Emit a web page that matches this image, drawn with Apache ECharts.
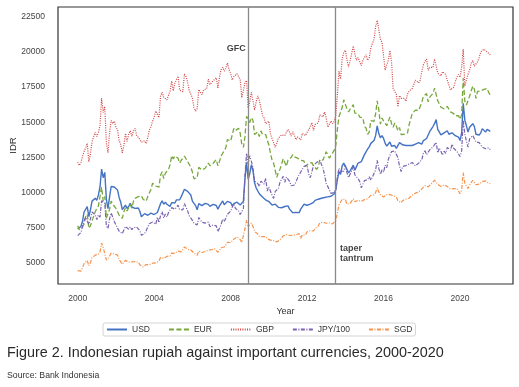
<!DOCTYPE html>
<html><head><meta charset="utf-8">
<script src="https://cdn.jsdelivr.net/npm/echarts@6/dist/echarts.min.js"></script>
<style>html,body{margin:0;padding:0;background:#fff}#c{width:519px;height:387px}</style>
</head><body><div id="c"></div>
<script>
// Monthly series, Jan 2000 - Aug 2021
const START_YEAR = 2000;
const usd = [
7425,7505,7590,7945,8620,8735,9000,8290,8780,9395,9530,9595,
9450,9835,10400,11675,11058,11440,9525,8865,9675,10435,10430,10400,
10320,10190,9655,9316,8785,8730,9108,8867,9015,9233,8976,8940,
8876,8905,8908,8675,8279,8285,8505,8535,8389,8495,8537,8465,
8441,8447,8587,8661,9210,9415,9168,9328,9170,9090,9018,9290,
9165,9260,9480,9570,9495,9713,9819,10240,10310,10090,10035,9830,
9395,9230,9075,8775,9220,9300,9070,9100,9235,9110,9165,9020,
9090,9160,9118,9083,8815,9054,9186,9410,9137,9103,9376,9419,
9291,9051,9217,9234,9318,9225,9118,9153,9378,10995,12151,10950,
11355,11980,11575,10713,10340,10225,9920,10060,9681,9545,9480,9400,
9365,9335,9115,9012,9180,9083,8952,9041,8924,8928,9013,8991,
9057,8823,8709,8574,8537,8597,8508,8578,8823,8835,9170,9068,
9100,9150,9180,9190,9300,9450,9480,9530,9580,9600,9620,9650,
9690,9700,9720,9740,9800,9900,10200,10900,11500,11300,11900,12100,
12200,11650,11400,11550,11600,11950,11600,11700,12100,12100,12200,12450,
12700,12900,13100,13250,13500,13550,13700,14050,14750,14200,13900,14050,
13850,13500,13300,13250,13600,13300,13200,13350,13150,13100,13550,13450,
13400,13350,13350,13300,13350,13350,13350,13350,13450,13550,13550,13550,
13450,13700,13750,13850,13950,14350,14450,14700,14900,15200,14500,14500,
14100,14050,14250,14200,14400,14150,14050,14250,14200,14050,14100,13950,
13700,14250,16350,15150,14750,14300,14650,14600,14900,14700,14150,14100,
14100,14250,14550,14450,14300,14500,14500,14350];
const eur = [
7650,7360,7290,7550,7760,8300,8460,7460,7640,7990,8100,8640,
8880,9050,9150,10390,9400,9720,8190,8070,8800,9390,9180,9260,
8880,8870,8400,8380,8170,8640,8930,8690,8920,9140,8890,9390,
9590,9620,9710,9720,9770,9530,9530,9390,9730,9850,10240,10670,
10550,10470,10560,10390,11240,11490,11000,11380,11370,11640,11990,12630,
12400,12600,12500,12450,12100,12300,12350,12600,12500,12200,12000,11800,
11460,10980,10980,11060,11800,11900,11610,11650,11730,11660,12100,11910,
11820,12090,12220,12350,11900,12220,12590,12800,12970,13200,13780,13750,
13660,13760,14560,14410,14440,14580,14220,13450,13220,13960,15430,15330,
14990,15330,15160,14140,14170,14320,13990,14390,14130,14130,14130,13720,
13390,12790,12300,12080,11570,11080,11460,11660,11690,12410,12350,11870,
12300,12400,12500,12700,12550,12500,12450,12450,12300,12250,12250,11850,
11740,12080,12120,12130,11900,11810,11660,11820,12360,12480,12310,12640,
12900,12900,12450,12650,12750,13000,13350,14500,15400,15350,16050,16600,
16590,15960,15730,15940,15890,16250,15660,15560,15610,15370,15250,15310,
14730,14580,14150,14310,15120,15180,15070,15600,16520,15900,14870,15310,
15100,14990,14760,15100,15370,14900,14650,14950,14730,14410,14630,14120,
14200,14150,14290,14230,14820,15220,15620,15750,15870,15850,15850,15990,
16410,16850,16910,17040,16460,16790,16910,17050,17430,17480,16530,16530,
16070,16020,15960,15900,16130,15990,15740,15820,15620,15460,15510,15480,
15210,15530,18150,16510,16230,16160,16850,17230,17580,17350,16700,17200,
17200,17240,17310,17340,17450,17400,17110,16930];
const gbp = [
12180,11930,12140,12550,12930,13190,13500,12190,12730,13620,13530,14300,
13990,14260,14770,16700,15700,16130,13530,12850,14220,15130,14910,15080,
14650,14470,13710,13420,12830,13360,14210,13650,14150,14400,14000,14390,
14560,14070,14070,13790,13580,13670,13690,13490,13930,14440,14680,15070,
15360,15800,15800,15330,16850,17140,16780,16700,16600,16730,17220,17930,
17230,17780,17920,18280,17280,17390,17180,18430,18250,17860,17260,17010,
16720,16060,15790,15970,17330,17210,16960,17290,17270,17400,18060,17680,
17820,17950,17960,18170,17450,18200,18740,18910,18640,18840,19220,18740,
18490,18010,18250,18280,18450,18360,18050,16750,16690,17810,17980,15990,
16460,17130,16550,15860,16440,16870,16570,16600,15490,15300,14900,15000,
15080,14190,13850,13790,13220,13530,13880,14010,14100,14200,14060,13940,
14490,14290,14020,14320,14090,13760,13950,13980,13760,14220,14210,14060,
14290,14460,14690,14980,14420,14840,14880,14960,15520,15460,15390,15740,
15310,14650,14770,15100,14900,15050,15500,16900,18630,18080,19520,19970,
20130,19460,18920,19400,19490,20430,19840,19420,19600,19480,19030,19420,
19300,19800,19400,19600,20300,20600,20900,21800,22250,21600,20900,20700,
19700,18700,19100,19400,20100,19300,17400,17300,17000,16100,16900,16700,
16600,16700,16500,17000,17200,17100,17400,17300,18000,17900,17800,18000,
18600,19100,19350,19500,18700,18900,18900,18900,19500,19600,18500,18400,
18300,18600,18700,18400,18000,17900,17300,17200,17500,17900,18200,18400,
18200,18900,20200,17600,18000,18400,18700,19200,19400,19000,18900,19300,
19600,20000,19900,20200,20300,20000,20100,19800];
const jpy100 = [
6940,6820,7160,7570,7980,8240,8260,7750,8130,8620,8660,8420,
8080,8410,8250,9420,9290,9230,7620,7450,8130,8550,8480,7940,
7700,7660,7260,7280,7080,7340,7590,7510,7390,7570,7360,7510,
7400,7550,7550,7290,6960,6900,7090,7290,7560,7790,7760,7910,
7960,7750,8260,7870,8370,8640,8190,8480,8260,8580,8760,8930,
8810,8820,8860,9110,8790,8750,8770,9230,9120,8700,8360,8330,
8030,7820,7690,7700,8230,8160,7890,7780,7830,7790,7900,7580,
7510,7700,7730,7630,7230,7360,7720,8110,7940,7920,8450,8410,
8680,8700,9220,8880,8870,8700,8440,8400,8850,11220,12790,12030,
12620,12220,11810,10820,10770,10650,10440,10820,10760,10610,11020,10110,
10410,10490,9800,9590,10090,10210,10290,10760,10620,11160,10730,11100,
11000,10800,10490,10580,10540,10750,11050,11140,11460,11330,11860,11890,
11970,11300,11060,11490,11920,11810,12150,12060,12280,12000,11730,11240,
10650,10430,10340,9940,9800,10000,10200,11120,11730,11530,11670,11520,
11960,11420,11070,11320,11370,11830,11260,11250,11000,10800,10340,10380,
10850,10750,10920,11130,10890,11110,11050,11610,12290,11740,11300,11610,
11450,11950,11770,12380,12250,12910,12940,12960,13020,12480,11890,11500,
11860,11920,11920,11980,12030,11920,12140,12140,11900,11990,12100,12000,
12340,12800,12970,12700,12570,13050,13020,13240,13180,13570,12830,13180,
12940,12660,12950,12790,13210,13100,13010,13440,13150,13010,12940,12800,
12570,12950,15140,14160,13660,13240,13820,13770,14060,14000,13600,13690,
13560,13440,13230,13260,13120,13060,13180,13050];
const sgd = [
4450,4360,4410,4650,4950,5050,5170,4790,5020,5370,5480,5550,
5460,5620,5780,6410,6110,6250,5200,5070,5470,5700,5670,5620,
5610,5570,5250,5150,4910,4960,5180,5070,5060,5190,5070,5170,
5100,5120,5060,4870,4790,4710,4830,4880,4850,4880,4910,4980,
4990,5000,5110,5130,5390,5470,5330,5420,5460,5480,5500,5700,
5590,5680,5750,5840,5720,5780,5920,6130,6100,5970,5900,5920,
5800,5700,5600,5550,5840,5890,5740,5800,5810,5840,5910,5900,
5940,5990,6000,5980,5760,5920,6080,6190,6130,6280,6470,6540,
6450,6420,6680,6790,6850,6780,6660,6450,6560,7430,8050,7600,
7520,7830,7610,7240,7130,7050,6890,6990,6870,6820,6870,6710,
6640,6620,6510,6580,6560,6490,6580,6650,6760,6920,6880,7020,
7080,6950,6910,6970,6880,6990,7090,7090,6740,7010,7050,6980,
7220,7320,7290,7410,7270,7440,7580,7620,7850,7870,7890,7910,
7820,7820,7840,7850,7780,7800,8030,8510,9130,9110,9520,9600,
9530,9170,9050,9240,9280,9560,9350,9360,9450,9450,9380,9430,
9500,9500,9560,9700,9800,9850,9850,10000,10350,10050,9850,9900,
9690,9640,9850,9890,9860,9850,9780,9820,9670,9420,9480,9280,
9440,9470,9540,9500,9600,9670,9820,9820,9960,9960,10040,10110,
10270,10380,10500,10490,10410,10550,10630,10730,10880,11010,10580,10660,
10440,10410,10560,10440,10430,10480,10260,10250,10290,10330,10290,10330,
9930,10180,11430,10670,10460,10290,10540,10660,10880,10810,10560,10680,
10600,10710,10780,10870,10830,10820,10660,10630];

const seriesNames = ['USD', 'EUR', 'GBP', 'JPY/100', 'SGD'];
const xTicks = [2000, 2004, 2008, 2012, 2016, 2020];
const yTicks = [5000, 7500, 10000, 12500, 15000, 17500, 20000, 22500];
const eventYears = [2008.92, 2013.48];
const annotationTexts = ['GFC', 'taper\ntantrum'];
const annotationValues = [20270, 5660];

const dates = usd.map((_, i) => START_YEAR + i / 12);
const pair = arr => arr.map((v, i) => [dates[i], v]);

const FONT = '"Liberation Sans", Arial, sans-serif';
const styles = [
  {color: '#4472c4', type: 'solid', width: 1.4},
  {color: '#77a83c', type: [5, 2.5], width: 1.3},
  {color: '#d04545', type: [1, 1.3], width: 1.2},
  {color: '#7a62b0', type: [4, 1.5, 1, 1.5], width: 1.2},
  {color: '#f7934c', type: [4, 1.5, 1, 1.5], width: 1.2}
];
const values = [usd, eur, gbp, jpy100, sgd];

const series = seriesNames.map((n, k) => ({
  name: n, type: 'line', data: pair(values[k]), symbol: 'none', showSymbol: false,
  lineStyle: styles[k], itemStyle: {color: styles[k].color}, silent: true, animation: false
}));
series[0].markLine = {
  symbol: 'none', silent: true, animation: false,
  label: {show: false},
  lineStyle: {color: '#8a8a8a', type: 'solid', width: 1.3},
  data: eventYears.map(x => ({xAxis: x}))
};
series.push({
  name: 'annotations', type: 'scatter', symbolSize: 1, silent: true, animation: false, z: 10,
  itemStyle: {color: 'rgba(0,0,0,0)'},
  data: eventYears.map((x, i) => ({
    value: [x, annotationValues[i]], txt: annotationTexts[i],
    label: {position: i === 0 ? 'left' : 'right', distance: i === 0 ? 2 : 4}
  })),
  label: {show: true, formatter: p => p.data.txt, fontWeight: 'bold', fontSize: 9,
          color: '#111', fontFamily: FONT, lineHeight: 10}
});

const plain = v => String(Math.round(v));

const chart = echarts.init(document.getElementById('c'), null, {renderer: 'canvas'});
chart.setOption({
  animation: false,
  backgroundColor: '#fff',
  textStyle: {fontFamily: FONT},
  title: [
    {text: 'Figure 2. Indonesian rupiah against important currencies, 2000-2020',
     left: 7, top: 346, padding: 0,
     textStyle: {fontSize: 14.4, fontWeight: 'normal', color: '#2a2a2a', fontFamily: FONT}},
    {text: 'Source: Bank Indonesia', left: 7, top: 371, padding: 0,
     textStyle: {fontSize: 8.7, fontWeight: 'normal', color: '#333', fontFamily: FONT}}
  ],
  legend: {
    data: seriesNames, left: 103, top: 323, itemWidth: 20, itemHeight: 8, itemGap: 18,
    padding: [2, 3, 2, 3], borderColor: '#d4d4d4', borderWidth: 1, borderRadius: 2,
    itemStyle: {opacity: 0, borderWidth: 0},
    textStyle: {fontSize: 8.5, color: '#333', fontFamily: FONT},
    selectedMode: false
  },
  grid: {left: 58, right: 6, top: 7, bottom: 103, show: true, borderColor: '#333', borderWidth: 1.2,
         containLabel: false, outerBoundsMode: 'none'},
  xAxis: {
    type: 'value', min: 1998.97, max: 2022.77,
    name: 'Year', nameLocation: 'middle', nameGap: 23, nameMoveOverlap: false,
    nameTextStyle: {fontSize: 9, color: '#333', fontFamily: FONT},
    axisLine: {show: false}, axisTick: {show: false}, splitLine: {show: false},
    axisLabel: {customValues: xTicks, formatter: plain, fontSize: 8.5, color: '#444', margin: 10, fontFamily: FONT}
  },
  yAxis: {
    type: 'value', min: 3500, max: 23200,
    name: 'IDR', nameLocation: 'middle', nameGap: 40, nameRotate: 90, nameMoveOverlap: false,
    nameTextStyle: {fontSize: 9.5, color: '#333', fontFamily: FONT},
    axisLine: {show: false}, axisTick: {show: false}, splitLine: {show: false},
    axisLabel: {customValues: yTicks, formatter: plain, fontSize: 8.5, color: '#444', margin: 13, fontFamily: FONT}
  },
  series: series
});
</script></body></html>
